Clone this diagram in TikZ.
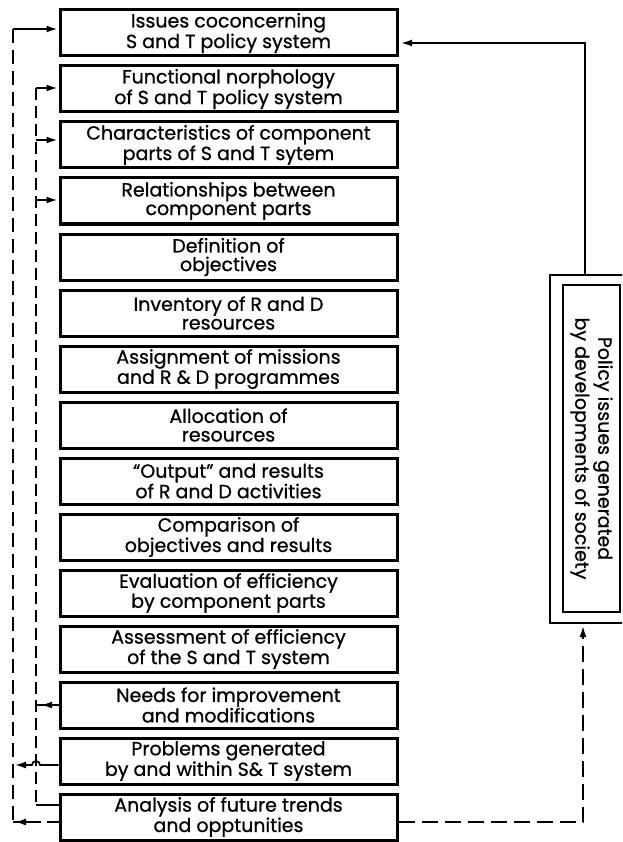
\documentclass[tikz,border=0pt]{standalone}
\usepackage{fontspec}
\setmainfont{Poppins}[FakeBold=0.8]
\usetikzlibrary{arrows.meta}

\begin{document}
\begin{tikzpicture}[x=1pt,y=-1pt,
  stage/.style={draw, line width=3pt, minimum width=337pt, minimum height=46pt,
    inner sep=0pt, align=center, font=\fontsize{19}{18.6}\selectfont},
  link/.style={line width=1.7pt},
  tip/.style={-{Latex[length=11pt,width=7pt]}},
  dashA/.style={dash pattern=on 14pt off 7pt},
  dashB/.style={dash pattern=on 12pt off 6pt},
  dashC/.style={dash pattern=on 16pt off 7pt},
  frame/.style={draw, line width=2.2pt, inner sep=0pt}
]
\clip (0,0) rectangle (622,842);

% chain of stages
\node[stage] (b1)  at (228.5,33)  {Issues coconcerning\\S and T policy system};
\node[stage] (b2)  at (228.5,89)  {Functional norphology\\of S and T policy system};
\node[stage] (b3)  at (228.5,145) {Characteristics of component\\parts of S and T sytem};
\node[stage] (b4)  at (228.5,201) {Relationships between\\component parts};
\node[stage] (b5)  at (228.5,257) {Definition of\\objectives};
\node[stage] (b6)  at (228.5,313) {Inventory of R and D\\resources};
\node[stage] (b7)  at (228.5,369) {Assignment of missions\\and R \& D programmes};
\node[stage] (b8)  at (228.5,425) {Allocation of\\resources};
\node[stage] (b9)  at (228.5,481) {``Output'' and results\\of R and D activities};
\node[stage] (b10) at (228.5,537) {Comparison of\\objectives and results};
\node[stage] (b11) at (228.5,593) {Evaluation of efficiency\\by component parts};
\node[stage] (b12) at (228.5,649) {Assessment of efficiency\\of the S and T system};
\node[stage] (b13) at (228.5,705) {Needs for improvement\\and modifications};
\node[stage] (b14) at (228.5,761) {Problems generated\\by and within S\& T system};
\node[stage] (b15) at (228.5,817) {Analysis of future trends\\and opptunities};

% external source box (double frame)
\node[frame, minimum width=76pt, minimum height=348pt] (pol) at (588,449) {};
\node[frame, rotate=-90, minimum width=327pt, minimum height=57pt, align=center,
  font=\fontsize{19}{23}\selectfont] (poltext) at (591.5,448.5)
  {Policy issues generated\\by developments of society};

% right-hand feedback: society -> first stage
\coordinate (pTop) at (585,275);
\coordinate (t1) at (401,43);
\draw[link,tip] (pTop) |- (t1);

% right-hand dashed link: future trends -> society
\coordinate (rb) at (583,822);
\coordinate (pBot) at (583,626);
\draw[link,dashC,tip] (b15.east |- rb) -| (pBot);

% outer left loop
\coordinate (oTop) at (13,29);
\coordinate (oBot) at (13,822);
\coordinate (o14) at (13,765);
\draw[link,dashA] (oTop) -- (oBot);
\draw[link,tip] (oTop) -- ([xshift=-1pt]oTop -| b1.west);
\draw[link,dashB] (b15.west |- oBot) -- (oBot);
\draw[link,tip] ([xshift=16pt]oBot) -- ([xshift=2pt]oBot);

% inner left loop
\coordinate (iTop) at (36,88);
\coordinate (i3) at (36,140);
\coordinate (i4) at (36,200);
\coordinate (i13) at (36,705);
\coordinate (iBot) at (36,805);
\coordinate (x14) at (iTop |- o14);
\draw[link,dashB] (iTop) -- (iBot);
\draw[link,tip] (iTop) -- ([xshift=-1pt]iTop -| b2.west);
\draw[link,tip] (i3) -- ([xshift=-1pt]i3 -| b3.west);
\draw[link,tip] (i4) -- ([xshift=-1pt]i4 -| b4.west);
\draw[link] (i13 -| b13.west) -- (i13);
\draw[link,tip] (i13 -| b13.west) -- ([xshift=5pt]i13);
\draw[link] (iBot -| b15.west) -- (iBot);

% problems -> outer loop, hopping over the inner line
\draw[link,tip] (b14.west |- o14) -- ([xshift=4pt]x14)
  arc[start angle=0, end angle=180, radius=4pt] -- ([xshift=2pt]o14);
\end{tikzpicture}
\end{document}
